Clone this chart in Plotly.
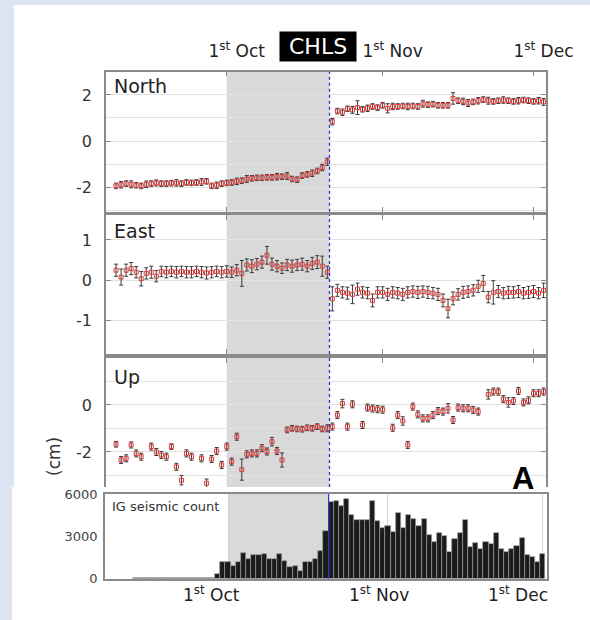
import pandas as pd
import plotly.graph_objects as go

# ---------------- data ----------------
gps_start = "2011-09-09"          # first daily GPS solution
north_cm = [
    -1.95, -1.9, -1.85, -1.88, -1.92, -1.95, -1.88, -1.85, -1.82, -1.85, -1.85, -1.83, -1.82, -1.85,
    -1.8, -1.82, -1.8, -1.78, -1.75, -1.95, -1.92, -1.85,
    -1.82, -1.8, -1.75, -1.72, -1.65, -1.62, -1.6, -1.6, -1.58, -1.58, -1.55, -1.55, -1.52, -1.65,
    -1.68, -1.5, -1.45, -1.4, -1.3, -1.15, -0.9,
    0.84, 1.3, 1.25, 1.4, 1.35, 1.45, 1.38, 1.42, 1.5, 1.45,
    1.55, 1.42, 1.5, 1.5, 1.52, 1.5, 1.52, 1.5, 1.62, 1.58, 1.6, 1.55, 1.55, 1.55, 1.85, 1.75, 1.72,
    1.65, 1.7, 1.75, 1.8, 1.75, 1.72, 1.75, 1.78, 1.75, 1.72, 1.75, 1.78, 1.75,
    1.72, 1.75, 1.7,
]
north_err = [
    0.12, 0.14, 0.12, 0.15, 0.12, 0.12, 0.14, 0.12, 0.13, 0.12, 0.12, 0.12, 0.14, 0.12, 0.12, 0.12,
    0.12, 0.15, 0.12, 0.12, 0.14, 0.12,
    0.12, 0.12, 0.14, 0.12, 0.15, 0.12, 0.12, 0.12, 0.12, 0.12, 0.14, 0.12, 0.15, 0.12, 0.12, 0.12,
    0.12, 0.14, 0.12, 0.14, 0.16,
    0.14, 0.12, 0.14, 0.12, 0.15, 0.3, 0.12, 0.14, 0.12, 0.12,
    0.12, 0.2, 0.14, 0.12, 0.12, 0.14, 0.12, 0.12, 0.15, 0.12, 0.12, 0.12, 0.12, 0.12, 0.25, 0.12,
    0.14, 0.15, 0.12, 0.14, 0.12, 0.15, 0.12, 0.12, 0.14, 0.12, 0.12, 0.14, 0.12, 0.12,
    0.12, 0.14, 0.15,
]
east_cm = [
    0.25, 0.08, 0.25, 0.29, 0.2, 0.04, 0.17, 0.2, 0.1, 0.22, 0.2, 0.22, 0.2, 0.22, 0.2, 0.2, 0.22,
    0.2, 0.18, 0.2, 0.22, 0.2,
    0.22, 0.2, 0.25, 0.17, 0.38, 0.35, 0.4, 0.45, 0.62, 0.4, 0.35, 0.3, 0.38, 0.35, 0.38, 0.4, 0.35,
    0.42, 0.45, 0.35, 0.2,
    -0.46, -0.25, -0.3, -0.32, -0.35, -0.22, -0.3, -0.32, -0.5, -0.3,
    -0.3, -0.35, -0.3, -0.32, -0.35, -0.3, -0.28, -0.3, -0.28, -0.3, -0.32, -0.35, -0.5, -0.7, -0.45,
    -0.35, -0.3, -0.28, -0.25, -0.15, -0.08, -0.42, -0.3, -0.28, -0.32, -0.3, -0.3, -0.28, -0.32, -0.3,
    -0.28, -0.32, -0.25,
]
east_err = [
    0.15, 0.2, 0.15, 0.15, 0.14, 0.18, 0.14, 0.15, 0.14, 0.13, 0.14, 0.13, 0.14, 0.13, 0.14, 0.14,
    0.13, 0.14, 0.15, 0.14, 0.13, 0.14,
    0.14, 0.13, 0.14, 0.32, 0.15, 0.16, 0.14, 0.15, 0.22, 0.15, 0.14, 0.13, 0.14, 0.15, 0.14, 0.15,
    0.14, 0.15, 0.16, 0.25, 0.15,
    0.3, 0.15, 0.14, 0.15, 0.23, 0.15, 0.14, 0.14, 0.16, 0.14,
    0.14, 0.15, 0.14, 0.14, 0.15, 0.14, 0.14, 0.15, 0.14, 0.15, 0.14, 0.15, 0.16, 0.23, 0.16, 0.14,
    0.15, 0.14, 0.14, 0.15, 0.2, 0.14, 0.29, 0.15, 0.14, 0.15, 0.14, 0.15, 0.14, 0.15,
    0.15, 0.14, 0.18,
]
up_cm = [
    -1.67, -2.34, -2.27, -1.7, -2.06, -2.2, None, -1.77, -2.0, -2.13, -2.2, -1.77, -2.63, -3.2,
    -2.06, -2.2, None, -2.27, -3.33, -2.3, -1.96, -2.55,
    -1.77, -2.41, -1.35, -2.75, -2.1, -2.06, -2.06, -1.84, -1.98, -1.56, -1.96, -2.34, -1.06, -0.99,
    -1.02, -1.03, -0.97, -0.99, -0.92, -1.02, -0.99,
    -0.92, -0.43, 0.06, -0.92, 0.03, None, -0.85, -0.11, -0.15, -0.18,
    -0.2, None, -0.97, -0.43, -0.68, -1.7, -0.07, -0.4, -0.57, -0.57, -0.43, -0.26, -0.28, -0.14,
    -0.64, -0.11, -0.14, -0.14, -0.21, -0.28, None, 0.45, 0.57, 0.57, 0.25, 0.11, 0.17, 0.6,
    0.11, 0.2, 0.5, 0.5, 0.57,
]
up_err = [
    0.12, 0.15, 0.15, 0.13, 0.15, 0.15, 0.15, 0.15, 0.15, 0.15, 0.15, 0.12, 0.15, 0.2, 0.15, 0.15,
    0.15, 0.15, 0.18, 0.15, 0.15, 0.15,
    0.15, 0.15, 0.15, 0.45, 0.15, 0.15, 0.15, 0.15, 0.15, 0.18, 0.15, 0.3, 0.12, 0.12, 0.12, 0.12,
    0.12, 0.12, 0.12, 0.12, 0.15,
    0.15, 0.15, 0.18, 0.15, 0.15, 0.15, 0.15, 0.15, 0.15, 0.15,
    0.15, 0.15, 0.15, 0.15, 0.18, 0.15, 0.15, 0.15, 0.15, 0.15, 0.15, 0.15, 0.15, 0.2, 0.15, 0.15,
    0.15, 0.15, 0.15, 0.15, 0.15, 0.2, 0.15, 0.15, 0.15, 0.2, 0.15, 0.15, 0.15, 0.15,
    0.15, 0.15, 0.15,
]
hist_start = "2011-09-13"         # first daily seismic count bar
ig_count = [
    40, 40, 45, 40, 40, 35, 40, 45, 40, 40, 45, 40, 40, 45, 40, 50,
    290, 1140,
    1190, 880, 1140, 1830, 1360, 1670, 1640, 1740, 1400, 1360, 1740, 1260, 790, 880, 550,
    1140, 1140, 1400, 1980, 3400, 5430, 5520, 5120, 5670, 4520, 4120, 4120, 4120, 5520, 4050, 3570,
    3760, 3330, 4620, 3570, 4480, 4240, 3760, 4210, 3100, 2620, 3210, 3050, 1900, 2810, 3260, 4170,
    2210, 2500, 2100, 2620, 2450, 3210, 2100, 1860, 2070, 2330, 2860, 1670, 1500, 1170,
    1740,
]
tick_dates = ["2011-10-01", "2011-11-01", "2011-12-01"]
tick_text = ["1<sup>st</sup> Oct", "1<sup>st</sup> Nov", "1<sup>st</sup> Dec"]
panel_names = ["North", "East", "Up"]
north_ticks = [-2, 0, 2]
east_ticks = [-1, 0, 1]
up_ticks = [-2, 0]
hist_ticks = [0, 3000, 6000]
station = "CHLS"
hist_label = "IG seismic count"
shade_start = "2011-10-01"
event_gps = "2011-10-21 10:30"
event_hist = "2011-10-20 12:00"

# ---------------- layout helpers ----------------
W, H = 590, 620
def fx(p):
    return p / W
def fy(p):
    return 1 - p / H

FONT = "DejaVu Sans"
LINEC = "#8a8a8a"
GRIDC = "#e2e2e2"

fig = go.Figure()

gps_x = pd.date_range(gps_start, periods=len(north_cm), freq="D")
series = [(north_cm, north_err), (east_cm, east_err), (up_cm, up_err)]
for i, (vals, errs) in enumerate(series):
    sfx = "" if i == 0 else str(i + 1)
    fig.add_trace(go.Scatter(
        x=gps_x, y=vals, mode="markers",
        marker=dict(symbol="square-open", size=4, color="#e03a36", line=dict(width=1, color="#e03a36")),
        error_y=dict(type="data", array=errs, color="#3a3a3a", thickness=1, width=2),
        xaxis="x" + sfx, yaxis="y" + sfx, showlegend=False, hoverinfo="skip",
    ))

hist_x = pd.date_range(hist_start, periods=len(ig_count), freq="D")
fig.add_trace(go.Bar(
    x=hist_x, y=ig_count, xaxis="x4", yaxis="y4", showlegend=False, hoverinfo="skip",
    marker=dict(color="#1b1b1b", line=dict(color="#9a9a9a", width=0.7)),
))

gps_dom_x = [fx(106), fx(546)]
panel_px = [(71.7, 211.7), (215, 354), (358, 487)]
yranges = [[-3.07, 3.01], [-1.83, 1.62], [-3.49, 2.0]]
ytv = [north_ticks, east_ticks, up_ticks]
ymin = [[-3, -1, 1, 3], [], [-3, -1, 1]]

lay = dict(
    width=W, height=H, autosize=False,
    margin=dict(l=0, r=0, t=0, b=0, pad=0),
    paper_bgcolor="#dce4f2", plot_bgcolor="white",
    bargap=0, showlegend=False,
    font=dict(family=FONT, color="#333333"),
)
xr = ["2011-09-07 00:00", "2011-12-03 11:30"]
for i in range(3):
    sfx = "" if i == 0 else str(i + 1)
    top, bot = panel_px[i]
    xa = dict(
        domain=gps_dom_x, range=xr, type="date", anchor="y" + sfx, automargin=False,
        tickvals=tick_dates, ticktext=tick_text, ticks="inside", ticklen=5,
        tickcolor=LINEC, showline=True, linecolor=LINEC, linewidth=1.5,
        showgrid=False, zeroline=False, side="top",
        mirror="ticks" if i < 2 else False,
        showticklabels=(i == 0),
        tickfont=dict(size=17, color="#222222", family=FONT),
        ticklabelshift=10, ticklabelstandoff=6,
    )
    ya = dict(
        domain=[fy(bot), fy(top)], range=yranges[i], anchor="x" + sfx, automargin=False,
        tickvals=ytv[i], ticktext=[str(v) for v in ytv[i]],
        ticks="inside", ticklen=5, tickcolor=LINEC,
        showline=True, linecolor=LINEC, linewidth=1.5, mirror="ticks",
        showgrid=True, gridcolor=GRIDC, gridwidth=1, zeroline=False,
        tickfont=dict(size=16, color="#333333", family=FONT), ticklabelstandoff=9,
        minor=dict(tickvals=ymin[i], showgrid=True, gridcolor=GRIDC, ticks=""),
    )
    lay["xaxis" + sfx] = xa
    lay["yaxis" + sfx] = ya

lay["xaxis4"] = dict(
    domain=[fx(105), fx(547)], range=["2011-09-07 03:54", "2011-12-01 19:44"], type="date",
    anchor="y4", automargin=False, tickvals=tick_dates, showticklabels=False, ticks="",
    showgrid=True, gridcolor="#d4d4d4", gridwidth=1, zeroline=False,
    showline=True, linecolor=LINEC, linewidth=1.5, mirror=True,
)
lay["yaxis4"] = dict(
    domain=[fy(578.5), fy(494)], range=[0, 6000], anchor="x4", automargin=False,
    tickvals=hist_ticks, ticktext=[str(v) for v in hist_ticks],
    ticks="", showgrid=False, zeroline=False,
    showline=True, linecolor=LINEC, linewidth=1.5, mirror=True,
    tickfont=dict(size=13, color="#444444", family=FONT), ticklabelstandoff=3,
)
fig.update_layout(**lay)

shapes = [
    dict(type="rect", xref="paper", yref="paper", x0=fx(14), x1=1, y0=fy(487), y1=fy(5),
         fillcolor="white", line=dict(width=0), layer="below"),
    dict(type="rect", xref="paper", yref="paper", x0=fx(12), x1=1, y0=0, y1=fy(487),
         fillcolor="white", line=dict(width=0), layer="below"),
]
for i in range(3):
    sfx = "" if i == 0 else str(i + 1)
    shapes.append(dict(type="rect", xref="x" + sfx, yref="y" + sfx + " domain",
                       x0=shade_start, x1=event_gps, y0=0, y1=1,
                       fillcolor="#d9d9d9", line=dict(width=0), layer="below"))
    shapes.append(dict(type="line", xref="x" + sfx, yref="y" + sfx + " domain",
                       x0=event_gps, x1=event_gps, y0=0, y1=1,
                       line=dict(color="#2a35d8", width=1.3, dash="dot")))
shapes.append(dict(type="rect", xref="x4", yref="y4 domain", x0=shade_start, x1=event_hist,
                   y0=0, y1=1, fillcolor="#d9d9d9", line=dict(width=0), layer="below"))
shapes.append(dict(type="line", xref="x4", yref="y4 domain", x0=event_hist, x1=event_hist,
                   y0=0, y1=1, line=dict(color="#2a35d8", width=1.2)))
fig.update_layout(shapes=shapes)

ann = []
label_y = [86, 231, 377]
for name, yy in zip(panel_names, label_y):
    ann.append(dict(text=name, xref="paper", yref="paper", x=fx(112), y=fy(yy),
                    xanchor="left", yanchor="middle", showarrow=False,
                    font=dict(size=19, color="#222222", family=FONT)))
ann.append(dict(text="\u00a0" + station + "\u00a0", xref="paper", yref="paper", x=fx(318), y=fy(46),
                xanchor="center", yanchor="middle", showarrow=False, bgcolor="black", borderpad=2,
                font=dict(size=22, color="white", family=FONT)))
ann.append(dict(text=hist_label, xref="paper", yref="paper", x=fx(110), y=fy(506.5),
                xanchor="left", yanchor="middle", showarrow=False,
                font=dict(size=13, color="#333333", family=FONT)))
ann.append(dict(text="(cm)", xref="paper", yref="paper", x=fx(54), y=fy(457),
                xanchor="center", yanchor="middle", showarrow=False, textangle=-90,
                font=dict(size=17, color="#333333", family=FONT)))
ann.append(dict(text="<b>A</b>", xref="paper", yref="paper", x=fx(523), y=fy(459),
                xanchor="center", yanchor="top", showarrow=False,
                font=dict(size=31, color="black", family="Liberation Sans")))
for d, t, sh in zip(tick_dates, tick_text, [-17, -9, -25]):
    ann.append(dict(text=t, xref="x4", yref="paper", x=d, y=fy(594), xshift=sh,
                    xanchor="center", yanchor="middle", showarrow=False,
                    font=dict(size=17, color="#222222", family=FONT)))
fig.update_layout(annotations=ann)

fig.write_html(
    "out.html",
    config={"displayModeBar": False},
    post_script="document.body.style.margin='0px';document.body.style.overflow='hidden';",
)
